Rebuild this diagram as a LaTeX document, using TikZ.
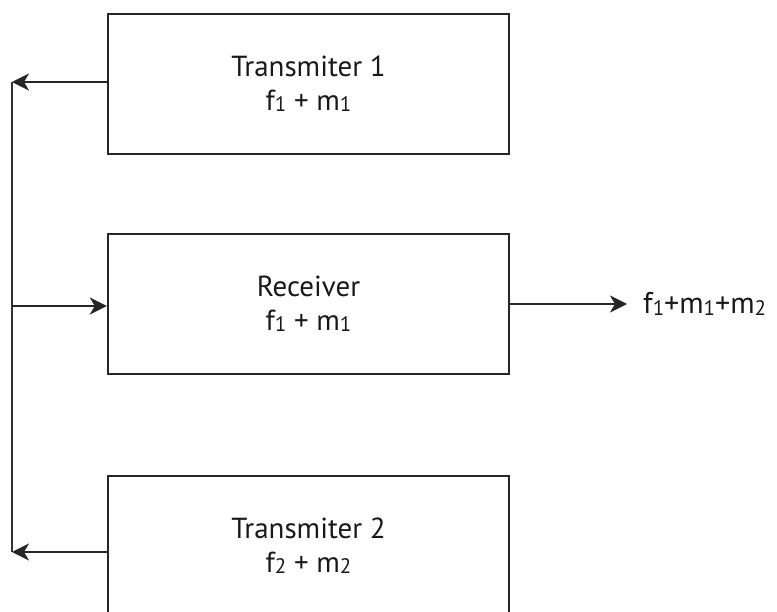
\documentclass[tikz,border=0pt]{standalone}
\usepackage{fontspec}
\setmainfont{PT Sans}
\usetikzlibrary{arrows.meta}
% small inferior digit used in the signal labels
\newcommand{\lowdigit}[1]{\raisebox{-0.08ex}{\fontsize{21}{21}\selectfont #1}}
\begin{document}
\begin{tikzpicture}[x=1pt,y=-1pt,
  block/.style={draw=black!85, line width=2.4pt, minimum width=401pt, minimum height=140pt,
    inner sep=0pt, align=center, text=black!90,
    font=\fontsize{29}{34}\selectfont},
  link/.style={draw=black!85, line width=1.9pt,
    -{Stealth[length=17pt,width=17pt,inset=5pt]}},
  plain/.style={draw=black!80, line width=1.9pt}]
\useasboundingbox (0,0) rectangle (777,612);
\clip (0,0) rectangle (777,612);

% the three blocks
\node[block] (t1) at (308.5,84)  {Transmiter 1\\f\lowdigit{1} + m\lowdigit{1}};
\node[block] (rx) at (308.5,304) {Receiver\\f\lowdigit{1} + m\lowdigit{1}};
\node[block] (t2) at (308.5,546) {Transmiter 2\\f\lowdigit{2} + m\lowdigit{2}};

% common bus on the left
\coordinate (b1) at (12,82);
\coordinate (bm) at (12,306);
\coordinate (b2) at (12,552);
\draw[plain] (b1) -- (b2);

\draw[link] ([yshift=2pt]t1.west) -- (b1);
\draw[link] (bm) -- ([yshift=-2pt]rx.west);
\draw[link] (t2.west |- b2) -- (b2);

% receiver output
\node[anchor=west, text=black!90, font=\fontsize{30}{34}\selectfont, inner sep=0pt]
  (out) at (643,304) {f\lowdigit{1}+m\lowdigit{1}+m\lowdigit{2}};
\draw[link] (rx.east) -- ([xshift=-16pt]out.west);
\end{tikzpicture}
\end{document}
